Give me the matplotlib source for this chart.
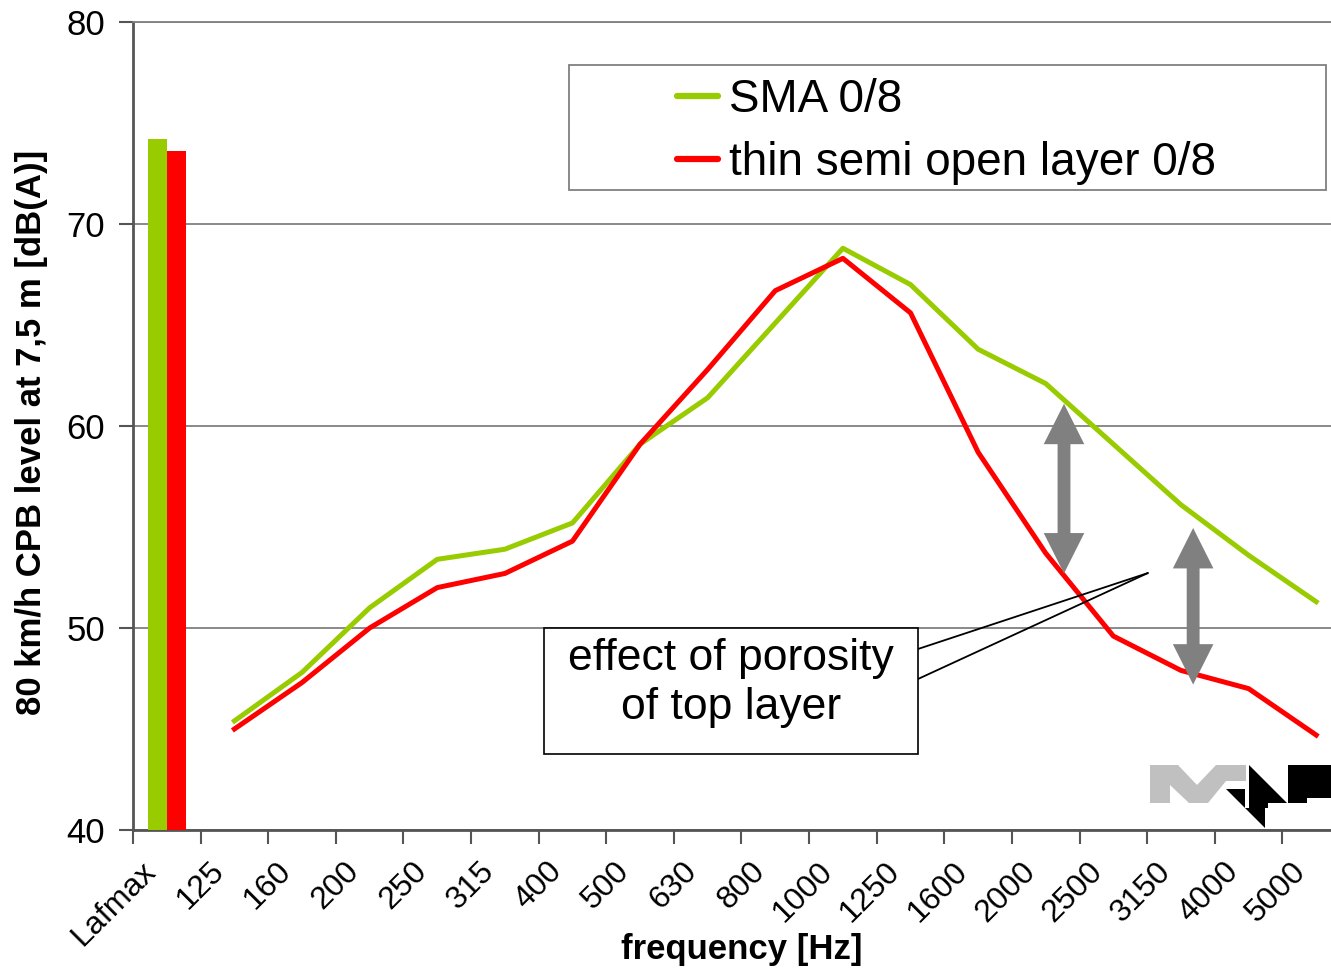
import matplotlib
matplotlib.use("Agg")
import matplotlib.pyplot as plt
import matplotlib.patches as mpatches
from matplotlib.lines import Line2D

W, H = 1331, 974

categories = ["Lafmax", "125", "160", "200", "250", "315", "400", "500", "630",
              "800", "1000", "1250", "1600", "2000", "2500", "3150", "4000", "5000"]
lafmax_sma = 74.2
lafmax_thin = 73.6
sma = [45.4, 47.8, 51.0, 53.4, 53.9, 55.2, 59.1, 61.4, 65.1, 68.8,
       67.0, 63.8, 62.1, 59.1, 56.1, 53.6, 51.3]
thin = [45.0, 47.3, 50.0, 52.0, 52.7, 54.3, 59.1, 62.8, 66.7, 68.3,
        65.6, 58.7, 53.7, 49.6, 47.9, 47.0, 44.7]
series_names = ["SMA 0/8", "thin semi open layer 0/8"]
arrows = [(13.27, 61.1, 52.7), (15.18, 54.95, 47.2)]  # x, top, bottom

GREEN = "#99cc00"
RED = "#ff0000"
GREY = "#808080"

plt.rcParams["font.family"] = ["Liberation Sans", "DejaVu Sans"]


def px(x, y):
    return x / W, 1 - y / H


def double_arrow(x, top, bot, shaft=0.19, head_w=0.6, head_l=2.0):
    hs, hh = shaft / 2, head_w / 2
    return [(x, top), (x + hh, top - head_l), (x + hs, top - head_l),
            (x + hs, bot + head_l), (x + hh, bot + head_l), (x, bot),
            (x - hh, bot + head_l), (x - hs, bot + head_l),
            (x - hs, top - head_l), (x - hh, top - head_l)]


fig = plt.figure(figsize=(W / 100, H / 100), dpi=100)
ax = fig.add_axes([133 / W, 144 / H, 1217 / W, 808 / H])

n = len(categories)
xs = list(range(1, n))
ax.bar(-0.14, lafmax_sma - 40, bottom=40, width=0.28, color=GREEN, zorder=3)
ax.bar(0.14, lafmax_thin - 40, bottom=40, width=0.28, color=RED, zorder=3)
ax.plot(xs, sma, color=GREEN, lw=3.6, zorder=4, solid_joinstyle="round")
ax.plot(xs, thin, color=RED, lw=3.6, zorder=4, solid_joinstyle="round")

ax.set_xlim(-0.5, n - 0.5)
ax.set_ylim(40, 80)
ax.set_yticks([40, 50, 60, 70, 80])
ax.set_xticks([i - 0.5 for i in range(n + 1)])
ax.set_xticklabels([])
# rotated labels sit a little left of the category centre (Excel style)
ax.set_xticks([i - 0.38 for i in range(n)], minor=True)
ax.set_xticklabels(categories, minor=True, rotation=45, ha="right",
                   rotation_mode="anchor", fontsize=23)
ax.tick_params(axis="x", which="major", length=10, width=1.5, color="#555555", direction="out")
ax.tick_params(axis="x", which="minor", length=0, pad=19)
ax.tick_params(axis="y", length=10, width=1.5, color="#555555", pad=10, labelsize=25)

ax.grid(axis="y", color=GREY, lw=1.3, zorder=0)
ax.spines["right"].set_visible(False)
ax.spines["top"].set_color(GREY)
ax.spines["top"].set_linewidth(1.3)
for s in ("left", "bottom"):
    ax.spines[s].set_color("#555555")
    ax.spines[s].set_linewidth(2)

ax.set_xlabel("frequency [Hz]", fontsize=25, fontweight="bold", va="center")
ax.xaxis.set_label_coords(0.5, -120 / 808)
ax.set_ylabel("80 km/h CPB level at 7,5 m [dB(A)]", fontsize=25, fontweight="bold",
              va="center", ha="center")
ax.yaxis.set_label_coords(-101 / 1217, 398 / 808)

# double-headed arrows
for x, top, bot in arrows:
    ax.add_patch(mpatches.Polygon(double_arrow(x, top, bot), closed=True,
                                  facecolor=GREY, lw=0, zorder=5))

# callout
tip = (14.51, 52.72)
for y0 in (649, 679):
    ax.annotate("", xy=tip, xycoords="data", xytext=px(918, y0),
                textcoords="figure fraction",
                arrowprops=dict(arrowstyle="-", color="black", lw=1.3,
                                shrinkA=0, shrinkB=0), zorder=6)
x0, y0 = px(544, 754)
x1, y1 = px(918, 628)
fig.patches.append(mpatches.Rectangle((x0, y0), x1 - x0, y1 - y0, transform=fig.transFigure,
                                      facecolor="white", edgecolor="black", lw=1.2, zorder=7))
fig.text(*px(731, 683), "effect of porosity\nof top layer", ha="center", va="center",
         fontsize=32, linespacing=1.24, zorder=8)

# legend
x0, y0 = px(569, 190)
x1, y1 = px(1326, 65)
fig.patches.append(mpatches.Rectangle((x0, y0), x1 - x0, y1 - y0, transform=fig.transFigure,
                                      facecolor="white", edgecolor=GREY, lw=1.3, zorder=7))
handles = [Line2D([], [], color=GREEN, lw=4.5, solid_capstyle="round"),
           Line2D([], [], color=RED, lw=4.5, solid_capstyle="round")]
leg = fig.legend(handles, series_names, loc="upper left", bbox_to_anchor=px(677, 78),
                 frameon=False, fontsize=33, handlelength=0.9, handletextpad=0.24,
                 labelspacing=0.42, borderpad=0, borderaxespad=0)
leg.set_zorder(8)

# logo
logo_grey = [(1150, 765), (1178, 765), (1197, 785), (1216, 765), (1246, 765), (1246, 781),
             (1226, 781), (1208, 803), (1189, 803), (1170, 785), (1170, 803), (1150, 803)]
logo_black = [
    [(1249, 765), (1287, 803), (1268, 803), (1268, 808), (1249, 808), (1249, 789), (1249, 765)],
    [(1226, 789), (1245, 789), (1245, 808), (1265, 808), (1265, 828), (1226, 789)],
    [(1288, 765), (1331, 765), (1331, 798), (1307, 798), (1307, 803), (1288, 803)],
]
fig.patches.append(mpatches.Polygon([px(*p) for p in logo_grey], closed=True,
                                    transform=fig.transFigure, facecolor="#c0c0c0", lw=0, zorder=9))
for poly in logo_black:
    fig.patches.append(mpatches.Polygon([px(*p) for p in poly], closed=True,
                                        transform=fig.transFigure, facecolor="black", lw=0, zorder=9))

fig.savefig("out.png", dpi=100)
